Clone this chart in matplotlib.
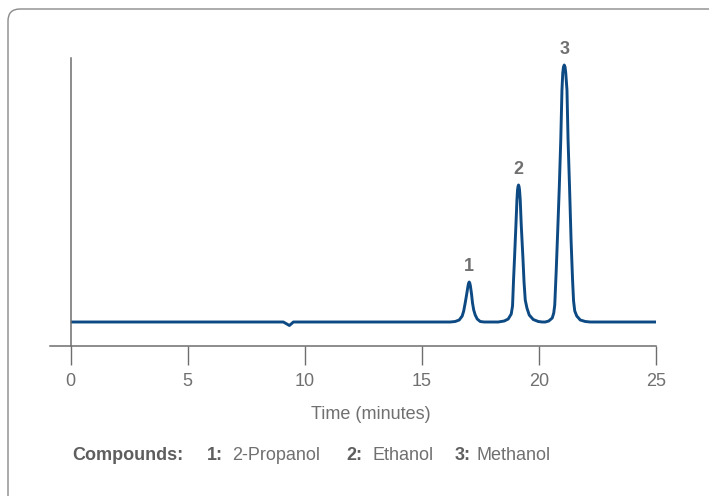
import matplotlib
matplotlib.use("Agg")
import matplotlib.pyplot as plt
from matplotlib.patches import PathPatch
from matplotlib.path import Path
import numpy as np

plt.rcParams['font.family'] = ['Liberation Sans', 'DejaVu Sans']

# ---- data (time in minutes, signal in arbitrary units) ----
time = [0.0, 9.08, 9.21, 9.34, 9.43, 9.51, 16.209,
        16.423, 16.594, 16.722, 16.786, 16.850, 16.915, 16.970, 16.996, 17.021, 17.047,
        17.073, 17.120, 17.162, 17.214, 17.278, 17.363, 17.491, 17.662,
        18.26, 18.517, 18.688, 18.816, 18.872, 18.915, 18.957, 19.017, 19.060, 19.085,
        19.107, 19.128, 19.150, 19.171, 19.201, 19.244, 19.316, 19.363, 19.415, 19.487,
        19.585, 19.756, 19.970, 20.141,
        20.269, 20.419, 20.568, 20.632, 20.675, 20.739, 20.803, 20.868, 20.932, 20.983,
        21.017, 21.047, 21.081, 21.115, 21.145, 21.197, 21.244, 21.308, 21.372, 21.436,
        21.479, 21.530, 21.615, 21.765, 21.979, 22.192, 25.0]
signal = [0, 0, -1.7, -3.5, -1.7, 0, 0,
          0.5, 2, 6, 11, 19, 28, 36, 38.8, 40, 38.8,
          36, 28, 19, 12, 7, 3, 0.5, 0,
          0, 1, 3, 8, 16, 42, 64, 97, 122, 132,
          135.5, 137, 135.5, 132, 122, 97, 64, 40, 22, 14,
          7, 2.5, 0.5, 0,
          0, 1, 4, 9, 17, 52, 92, 134, 182, 232,
          249, 255, 257, 255, 249, 232, 182, 134, 82, 42,
          21, 11, 6, 2, 0.5, 0, 0]

peak_times = [17.02, 19.13, 21.08]
peak_labels = ['1', '2', '3']
x_ticks = [0, 5, 10, 15, 20, 25]
x_label = 'Time (minutes)'
compounds_title = 'Compounds:'
compound_nums = ['1:', '2:', '3:']
compound_names = ['2-Propanol', 'Ethanol', 'Methanol']

LINE = '#0d4a83'
GREY = '#6e6e6e'
TXT = '#707070'
BOLDTXT = '#5e5e5e'

W, H = 709, 496
fig = plt.figure(figsize=(W / 100, H / 100), dpi=100)

# open rounded frame: top and left edges only (the rest lies outside the picture)
def px(x, y):
    return (x / 100.0, (H - y) / 100.0)

r = 12
verts = [px(709.5, 9), px(8 + r, 9), px(8, 9), px(8, 9 + r),
         px(8, 496.5)]
codes = [Path.MOVETO, Path.LINETO, Path.CURVE3, Path.CURVE3, Path.LINETO]
frame = PathPatch(Path(verts, codes), transform=fig.dpi_scale_trans, facecolor='none',
                  edgecolor='#8a8a8a', linewidth=1.0, fill=False, capstyle='butt')
fig.patches.append(frame)

ax = fig.add_axes([50 / W, 150 / H, 606 / W, 288 / H])
ax.set_xlim(-0.885, 25)
ax.set_ylim(-24, 264)
ax.patch.set_alpha(0)

ax.plot(time, signal, color=LINE, linewidth=2.1, solid_capstyle='butt', solid_joinstyle='round')

for s in ['top', 'right']:
    ax.spines[s].set_visible(False)
ax.spines['left'].set_position(('data', 0))
for s in ['left', 'bottom']:
    ax.spines[s].set_color(GREY)
    ax.spines[s].set_linewidth(1.1)

ax.set_yticks([])
ax.set_xticks(x_ticks)
ax.set_xticklabels([str(t) for t in x_ticks])
ax.tick_params(axis='x', direction='out', length=13.5, width=1.0, color=GREY,
               labelsize=13, labelcolor=TXT, pad=6)

t_arr = np.array(time)
s_arr = np.array(signal)
for pt, lab in zip(peak_times, peak_labels):
    win = np.abs(t_arr - pt) < 0.3
    idx = np.where(win)[0][np.argmax(s_arr[win])]
    ax.annotate(lab, xy=(t_arr[idx], s_arr[idx]), xytext=(0, 5), textcoords='offset points',
                ha='center', va='bottom', fontsize=13, fontweight='bold', color=TXT)

fig.text(370.5 / W, (H - 419) / H, x_label, ha='center', va='baseline', fontsize=13, color=TXT)

# compounds legend line
base_y = (H - 460) / H
fig.text(72.7 / W, base_y, compounds_title, ha='left', va='baseline',
         fontsize=13, fontweight='bold', color=BOLDTXT)
num_x = [206.7, 346.0, 455.0]
name_x = [232.3, 372.7, 476.7]
for num, name, nx, mx in zip(compound_nums, compound_names, num_x, name_x):
    fig.text(nx / W, base_y, num, ha='left', va='baseline', fontsize=13,
             fontweight='bold', color=BOLDTXT)
    fig.text(mx / W, base_y, name, ha='left', va='baseline', fontsize=13, color=TXT)

fig.savefig('out.png', dpi=100)
